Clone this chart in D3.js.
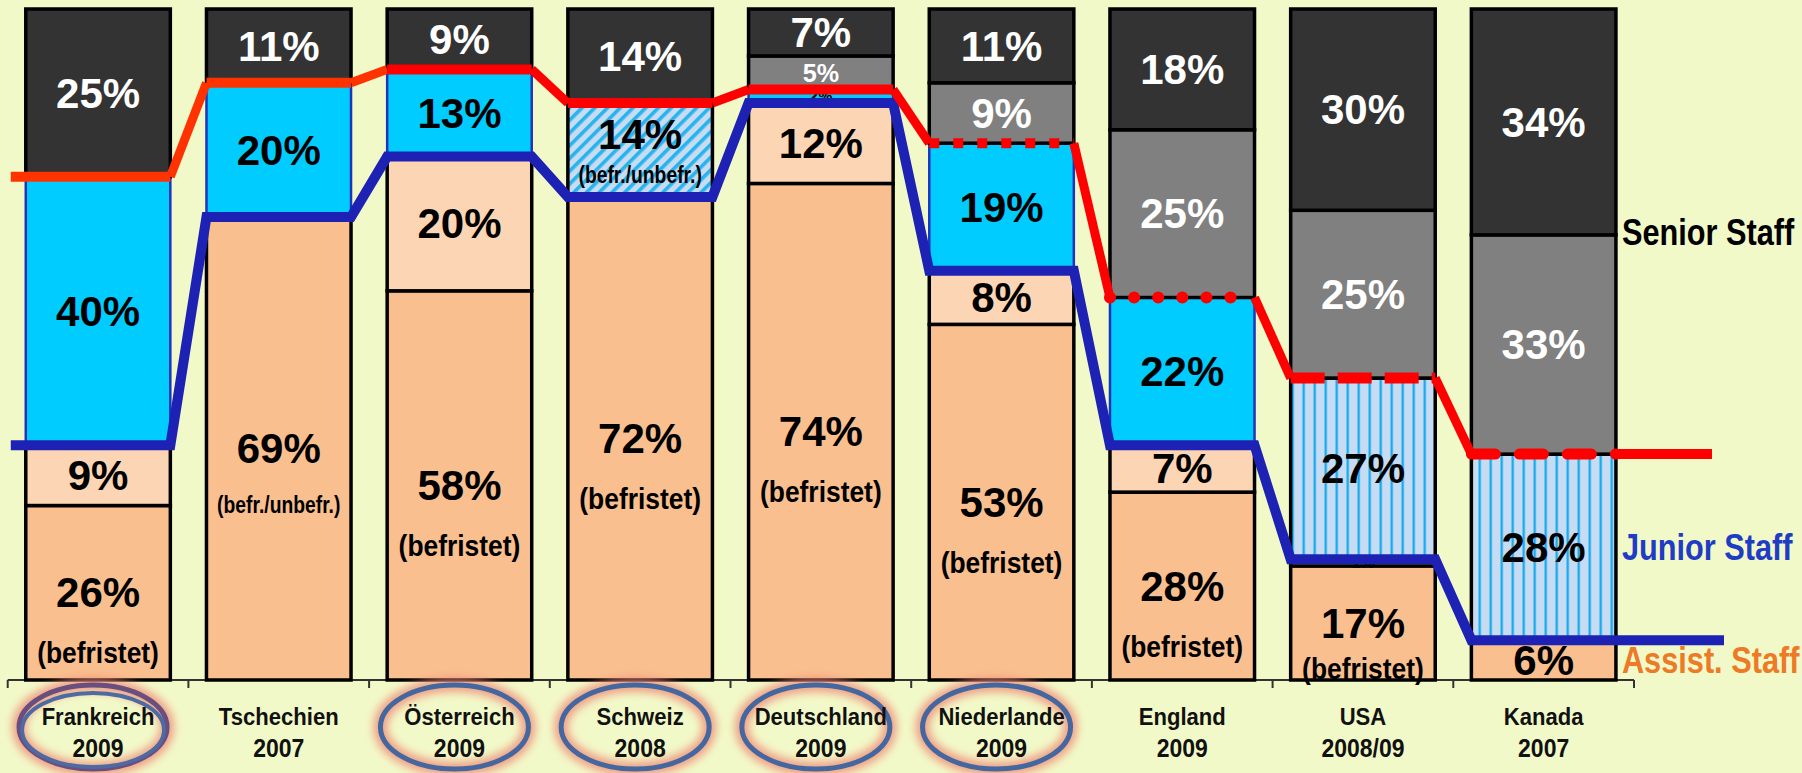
<!DOCTYPE html>
<html>
<head>
<meta charset="utf-8">
<script src="https://cdn.jsdelivr.net/npm/d3@7"></script>
<style>
  html, body { margin: 0; padding: 0; background: #F2F9C8; }
  svg { display: block; }
  text { font-family: "Liberation Sans", Arial, sans-serif; font-weight: bold; }
</style>
</head>
<body>
<svg id="chart" width="1802" height="773"></svg>
<script>
// ---------- DATA ----------
const categories = ["Frankreich","Tschechien","Österreich","Schweiz","Deutschland","Niederlande","England","USA","Kanada"];
const years = ["2009","2007","2009","2008","2009","2009","2009","2008/09","2007"];
const assistFixed = [26, 69, 58, 72, 74, 53, 28, 17, 6];   // Assist. Staff (befristet)
const assistOther = [9, 0, 20, 0, 12, 8, 7, 1, 0];         // Assist. Staff (other)
const junior      = [40, 20, 13, 14, 2, 19, 22, 27, 28];   // Junior Staff
const seniorLower = [0, 0, 0, 0, 5, 9, 25, 25, 33];        // Senior Staff (lower tier)
const seniorTop   = [25, 11, 9, 14, 7, 11, 18, 30, 34];    // Senior Staff (top tier)
const assistSub = ["(befristet)","(befr./unbefr.)","(befristet)","(befristet)","(befristet)","(befristet)","(befristet)","(befristet)",""];
const juniorSub = ["","","","(befr./unbefr.)","","","","",""];
const juniorFill = ["solid","solid","solid","diag","solid","solid","solid","vert","vert"];
const redStyle = ["solid","solid","solid","solid","solid","squareDot","roundDot","dash","roundDash"];
const circled = [true,false,true,true,true,true,false,false,false];
const rightLabels = ["Senior Staff","Junior Staff","Assist. Staff"];

// ---------- SETUP ----------
const W = 1802, H = 773;
const svg = d3.select("#chart");
svg.append("rect").attr("width", W).attr("height", H).attr("fill", "#F2F9C8");

const keys = ["assistFixed","assistOther","junior","seniorLower","seniorTop"];
const rows = categories.map((c, i) => ({
  cat: c, i,
  assistFixed: assistFixed[i], assistOther: assistOther[i], junior: junior[i],
  seniorLower: seniorLower[i], seniorTop: seniorTop[i]
}));
const stack = d3.stack().keys(keys).offset(d3.stackOffsetExpand);
const series = stack(rows);

const x = d3.scaleBand().domain(categories).range([7.7, 1634]).paddingInner(0.2).paddingOuter(0.1);
const y = d3.scaleLinear().domain([0, 1]).range([680, 9]);

// ---------- PATTERNS / FILTERS ----------
const defs = svg.append("defs");
const pd = defs.append("pattern").attr("id", "diag").attr("patternUnits", "userSpaceOnUse")
  .attr("width", 9).attr("height", 9).attr("patternTransform", "rotate(45)");
pd.append("rect").attr("width", 9).attr("height", 9).attr("fill", "#C7DBF1");
pd.append("rect").attr("width", 3.6).attr("height", 9).attr("fill", "#27B4EE");
const pv = defs.append("pattern").attr("id", "vert").attr("patternUnits", "userSpaceOnUse")
  .attr("width", 11).attr("height", 11);
pv.append("rect").attr("width", 11).attr("height", 11).attr("fill", "#C7DCF3");
pv.append("rect").attr("x", 4).attr("width", 3.4).attr("height", 11).attr("fill", "#7FCDF5");
pv.append("rect").attr("x", 4.8).attr("width", 1.8).attr("height", 11).attr("fill", "#1FAAEE");
const glow = defs.append("filter").attr("id", "glow").attr("x", "-30%").attr("y", "-40%").attr("width", "160%").attr("height", "180%");
glow.append("feGaussianBlur").attr("stdDeviation", 4);

// ---------- AXIS ----------
const axisG = svg.append("g");
const [r0, r1] = x.range();
axisG.append("line").attr("x1", r0).attr("x2", r1).attr("y1", y(0)).attr("y2", y(0))
  .attr("stroke", "#333").attr("stroke-width", 2);
d3.range(categories.length + 1).forEach(k => {
  const tx = r0 + k * x.step();
  axisG.append("line").attr("x1", tx).attr("x2", tx).attr("y1", y(0)).attr("y2", y(0) + 8)
    .attr("stroke", "#333").attr("stroke-width", 2);
});

// ---------- BARS ----------
const baseColor = { assistFixed: "#F9BF8F", assistOther: "#FCD5B4", junior: "#00CCFF", seniorLower: "#808080", seniorTop: "#333333" };
function fillFor(key, i) {
  if (key === "junior") {
    if (juniorFill[i] === "diag") return "url(#diag)";
    if (juniorFill[i] === "vert") return "url(#vert)";
  }
  return baseColor[key];
}
const barsG = svg.append("g");
series.forEach(s => {
  s.forEach((d, i) => {
    if (d[1] - d[0] <= 0) return;
    const cyan = s.key === "junior" && juniorFill[i] === "solid";
    barsG.append("rect")
      .attr("x", x(categories[i])).attr("width", x.bandwidth())
      .attr("y", y(d[1])).attr("height", y(d[0]) - y(d[1]))
      .attr("fill", fillFor(s.key, i))
      .attr("stroke", cyan ? "#2233BB" : "#000").attr("stroke-width", cyan ? 2.5 : 3.5);
  });
});

// ---------- SEGMENT LABELS ----------
const labelsG = svg.append("g");
function addText(g, txt, cx, cy, size, sx, color) {
  g.append("text")
    .attr("transform", `translate(${cx},${cy}) scale(${sx},1)`)
    .attr("text-anchor", "middle").attr("dy", "0.35em")
    .attr("font-size", size).attr("fill", color).text(txt);
}
series.forEach(s => {
  s.forEach((d, i) => {
    const v = d.data[s.key];
    if (!v) return;
    const top = y(d[1]), bot = y(d[0]);
    const h = bot - top;
    const cx = x(categories[i]) + x.bandwidth() / 2;
    const cy = (top + bot) / 2;
    const color = (s.key === "seniorTop" || s.key === "seniorLower") ? "#FFFFFF" : "#000000";
    const size = h >= 36 ? 42 : Math.max(16, h * 0.75);
    let sub = "";
    if (s.key === "assistFixed") sub = assistSub[i];
    if (s.key === "junior") sub = juniorSub[i];
    if (!sub) {
      addText(labelsG, v + "%", cx, cy, size, 1, color);
    } else if (s.key === "junior") {
      addText(labelsG, v + "%", cx, cy - 16, 42, 1, color);
      addText(labelsG, sub, cx, cy + 25, 23, 0.84, color);
    } else {
      const py = Math.min(cy, bot - 50);
      const sy = Math.min(cy + 60, bot - 12);
      addText(labelsG, v + "%", cx, py, 42, 1, color);
      if (sub === "(befristet)") addText(labelsG, sub, cx, sy, 30, 0.88, color);
      else addText(labelsG, sub, cx, sy - 4, 23, 0.84, color);
    }
  });
});

// ---------- LINES ----------
const juniorSeries = series.find(s => s.key === "junior");
const redY = juniorSeries.map(d => y(d[1]));
const blueY = juniorSeries.map(d => y(d[0]));
const L = i => x(categories[i]);
const R = i => x(categories[i]) + x.bandwidth();
const n = categories.length;
const linesG = svg.append("g");

// blue (Junior / Assist boundary)
const bluePts = [];
for (let i = 0; i < n; i++) {
  bluePts.push([i === 0 ? L(0) - 15 : L(i), blueY[i]]);
  bluePts.push([i === n - 1 ? r1 + 90 : R(i), blueY[i]]);
}
linesG.append("path").attr("d", d3.line()(bluePts)).attr("fill", "none")
  .attr("stroke", "#1E22B4").attr("stroke-width", 10).attr("stroke-linejoin", "miter");

// red (Senior / Junior boundary)
const dashSpec = {
  solid: { da: null, cap: "butt", w: 10 },
  squareDot: { da: "10 14", cap: "butt", w: 10 },
  roundDot: { da: "0.1 24", cap: "round", w: 12 },
  dash: { da: "34 13", cap: "butt", w: 11 },
  roundDash: { da: "24 24", cap: "round", w: 11 }
};
const redColor = i => i < 2 ? "#FF3300" : "#FF0000";
for (let i = 0; i < n; i++) {
  const sp = dashSpec[redStyle[i]];
  const x1 = i === 0 ? L(0) - 15 : L(i);
  const seg = linesG.append("line").attr("x1", x1).attr("x2", R(i))
    .attr("y1", redY[i]).attr("y2", redY[i])
    .attr("stroke", redColor(i)).attr("stroke-width", sp.w).attr("stroke-linecap", sp.cap);
  if (sp.da) seg.attr("stroke-dasharray", sp.da);
  if (i < n - 1) {
    linesG.append("line").attr("x1", R(i)).attr("y1", redY[i]).attr("x2", L(i + 1)).attr("y2", redY[i + 1])
      .attr("stroke", redColor(i)).attr("stroke-width", 9);
  }
}
linesG.append("line").attr("x1", R(n - 1)).attr("x2", r1 + 78)
  .attr("y1", redY[n - 1]).attr("y2", redY[n - 1]).attr("stroke", "#FF0000").attr("stroke-width", 10);

// ---------- CATEGORY LABELS ----------
const catG = svg.append("g");
categories.forEach((c, i) => {
  const cx = x(c) + x.bandwidth() / 2;
  const ex = cx - 5;
  if (circled[i]) {
    catG.append("ellipse").attr("cx", ex).attr("cy", 727).attr("rx", 74).attr("ry", 42)
      .attr("fill", "none").attr("stroke", "#EE8877").attr("stroke-width", 14).attr("opacity", 0.8)
      .attr("filter", "url(#glow)");
    catG.append("ellipse").attr("cx", ex).attr("cy", 727).attr("rx", 74).attr("ry", 42)
      .attr("fill", "none").attr("stroke", i === 0 ? "#6A4E7E" : "#44679F").attr("stroke-width", 5);
    if (i === 0) {
      catG.append("ellipse").attr("cx", ex).attr("cy", 730).attr("rx", 71).attr("ry", 37)
        .attr("fill", "none").attr("stroke", "#4D6AA3").attr("stroke-width", 4);
    }
  }
  catG.append("text").attr("transform", `translate(${cx},725) scale(0.92,1)`)
    .attr("text-anchor", "middle").attr("font-size", 24).attr("fill", "#111").text(c);
  catG.append("text").attr("transform", `translate(${cx},757) scale(0.92,1)`)
    .attr("text-anchor", "middle").attr("font-size", 25).attr("fill", "#111").text(years[i]);
});

// ---------- RIGHT LABELS ----------
const last = n - 1;
const sTop = series.find(s => s.key === "seniorTop")[last];
const sLow = series.find(s => s.key === "seniorLower")[last];
const aOth = series.find(s => s.key === "assistOther")[last];
const aFix = series.find(s => s.key === "assistFixed")[last];
const rightY = [
  (y(sTop[1]) + y(sLow[0])) / 2,
  (y(juniorSeries[last][1]) + y(juniorSeries[last][0])) / 2,
  (y(aOth[1]) + y(aFix[0])) / 2
];
const rightColors = ["#000000", "#1F3CC4", "#EC7A26"];
rightLabels.forEach((t, k) => {
  svg.append("text").attr("transform", `translate(${R(last) + 6},${rightY[k]}) scale(0.83,1)`)
    .attr("dy", "0.35em").attr("font-size", 37).attr("fill", rightColors[k]).text(t);
});
</script>
</body>
</html>
